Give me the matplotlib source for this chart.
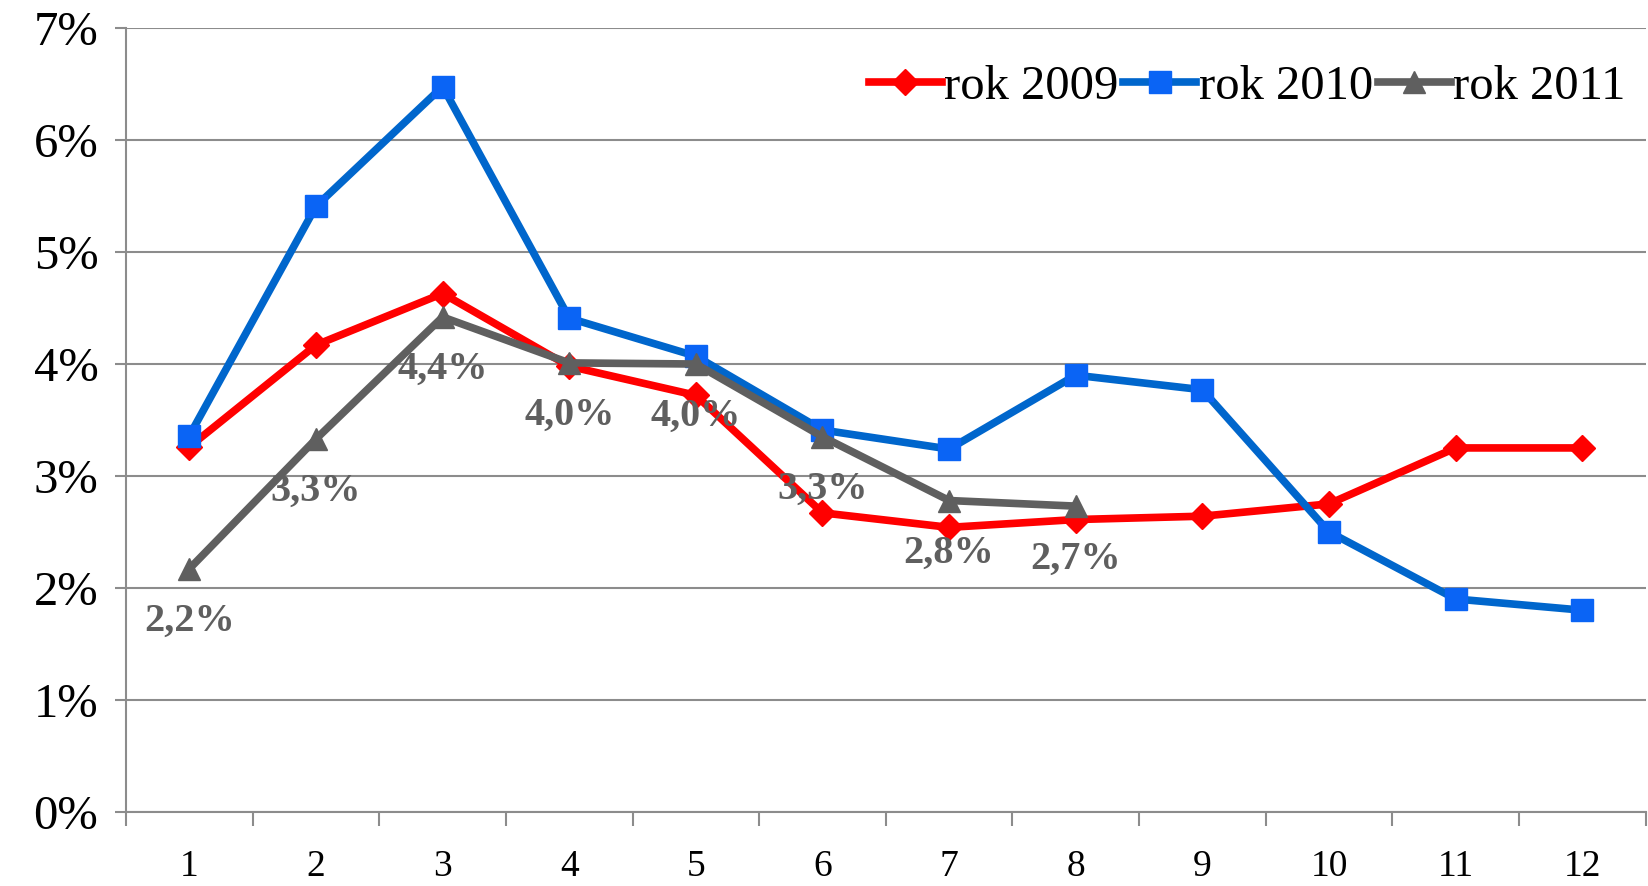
import numpy as np
import matplotlib
matplotlib.use("Agg")
import matplotlib.pyplot as plt
from matplotlib.ticker import FixedLocator, NullFormatter, FuncFormatter

plt.rcParams["font.family"] = ["Liberation Serif", "DejaVu Serif"]

# ---------------- Data ----------------
months = np.arange(1, 13)
rok_2009 = [3.26, 4.17, 4.63, 3.98, 3.72, 2.67, 2.54, 2.61, 2.64, 2.75, 3.25, 3.25]
rok_2010 = [3.36, 5.41, 6.48, 4.41, 4.07, 3.41, 3.24, 3.90, 3.77, 2.50, 1.90, 1.80]
rok_2011 = [2.17, 3.33, 4.42, 4.01, 4.00, 3.35, 2.78, 2.73]
labels_2011 = ["2,2%", "3,3%", "4,4%", "4,0%", "4,0%", "3,3%", "2,8%", "2,7%"]

RED = "#FF0000"
BLUE_LINE = "#0066CC"
BLUE_MARK = "#0A64F5"
GRAY = "#5F5F5F"
GRID = "#8C8C8C"

# ---------------- Figure ----------------
fig = plt.figure(figsize=(16.48, 8.86), dpi=100)
ax = fig.add_axes([0.0765, 0.084, 0.922, 0.884])

ax.plot(months, rok_2009, color=RED, lw=5.5, marker="D", ms=13,
        mfc=RED, mec=RED, label="rok 2009", zorder=3)
ax.plot(months, rok_2010, color=BLUE_LINE, lw=5.5, marker="s", ms=16,
        mfc=BLUE_MARK, mec=BLUE_MARK, label="rok 2010", zorder=4)
ax.plot(months[:len(rok_2011)], rok_2011, color=GRAY, lw=5.5, marker="^", ms=16,
        mfc=GRAY, mec=GRAY, label="rok 2011", zorder=5)

for x, y, t in zip(months, rok_2011, labels_2011):
    ax.annotate(t, (x, y), xytext=(0, -38), textcoords="offset points",
                ha="center", va="center", fontsize=29, fontweight="bold",
                color=GRAY, zorder=6)

# ---------------- Axes ----------------
ax.set_xlim(0.5, 12.5)
ax.set_ylim(0, 7)

ax.xaxis.set_major_locator(FixedLocator(np.arange(0.5, 13, 1)))
ax.xaxis.set_major_formatter(NullFormatter())
ax.xaxis.set_minor_locator(FixedLocator(months))
ax.xaxis.set_minor_formatter(FuncFormatter(lambda v, p: f"{int(v)}"))
ax.tick_params(axis="x", which="major", length=10, width=1.5, color=GRID,
               direction="out")
ax.tick_params(axis="x", which="minor", length=0, labelsize=27, pad=27)

ax.set_yticks(np.arange(0, 8, 1))
ax.yaxis.set_major_formatter(FuncFormatter(lambda v, p: f"{int(v)}%"))
ax.tick_params(axis="y", length=8, width=1.5, color=GRID, labelsize=35, pad=12)

ax.grid(axis="y", color=GRID, lw=1.5)
ax.set_axisbelow(True)
for side in ["top", "right"]:
    ax.spines[side].set_visible(False)
for side in ["left", "bottom"]:
    ax.spines[side].set_color(GRID)
    ax.spines[side].set_linewidth(1.5)

ax.legend(loc="upper right", ncol=3, frameon=False, fontsize=35,
          handlelength=1.5, handletextpad=0.05, columnspacing=0.1,
          borderaxespad=0.2, bbox_to_anchor=(1.006, 0.99))

fig.savefig("out.png", dpi=100)
